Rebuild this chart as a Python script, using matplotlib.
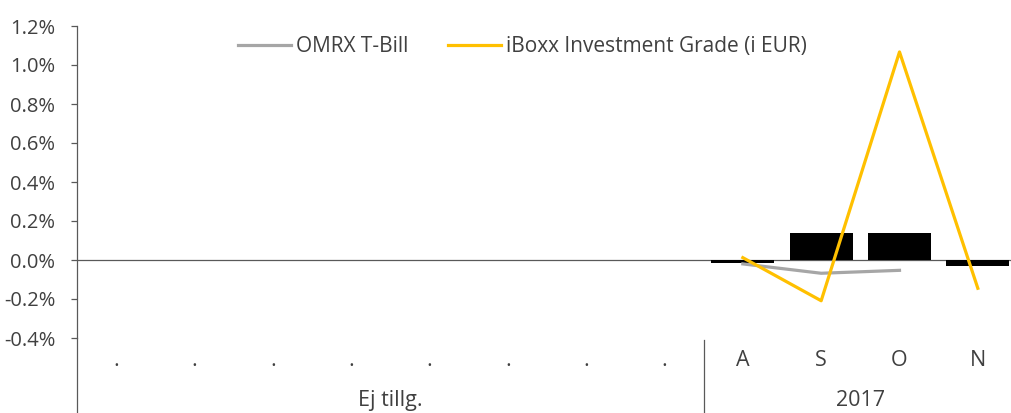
import matplotlib.pyplot as plt
import numpy as np

# Data (percent)
months = ['.', '.', '.', '.', '.', '.', '.', '.', 'A', 'S', 'O', 'N']
groups = ['Ej tillg.', '2017']
group_sizes = [8, 4]
bars = [np.nan] * 8 + [-0.017, 0.14, 0.14, -0.03]
omrx = [np.nan] * 8 + [-0.02, -0.068, -0.053, np.nan]
iboxx = [np.nan] * 8 + [0.012, -0.209, 1.067, -0.145]

plt.rcParams['font.family'] = ['Open Sans', 'DejaVu Sans']
txt = '#404040'
fs = 14.5

fig = plt.figure(figsize=(10.11, 4.13), dpi=100)
ax = fig.add_axes([77 / 1011, 75 / 413, 940 / 1011, 312 / 413])

x = np.arange(len(months))
ax.bar(x, bars, width=0.8, color='black', zorder=2)
ax.plot(x, omrx, color='#A6A6A6', lw=2.3, label='OMRX T-Bill', zorder=3)
ax.plot(x, iboxx, color='#FFC000', lw=2.3, label='iBoxx Investment Grade (i EUR)', zorder=4)
ax.axhline(0, color='#595959', lw=0.9, zorder=1)

ax.set_xlim(-0.5, len(months) - 0.5)
ax.set_ylim(-0.4, 1.2)
ax.set_yticks(np.arange(-0.4, 1.21, 0.2))
ax.set_yticklabels(['%.1f%%' % v for v in np.arange(-0.4, 1.21, 0.2)], color=txt, fontsize=fs)
ax.tick_params(axis='y', length=4.5, color='#595959', width=0.9, pad=11)
ax.set_xticks([])

for s in ['top', 'right', 'bottom']:
    ax.spines[s].set_visible(False)
ax.spines['left'].set_color('#595959')
ax.spines['left'].set_linewidth(0.9)
ax.spines['left'].set_bounds(-0.4, 1.2)

# category labels below the plot
for i, m in enumerate(months):
    ax.text(i, -0.515, m, ha='center', va='center', fontsize=15.5, color=txt)
start = 0
for g, n in zip(groups, group_sizes):
    ax.text(start + (n - 1) / 2, -0.723, g, ha='center', va='center', fontsize=15.5, color=txt)
    start += n

# axis lines in label area
ax.plot([-0.5, -0.5], [-0.4, -0.8], color='#595959', lw=0.9, clip_on=False)
ax.plot([7.5, 7.5], [-0.41, -0.8], color='#595959', lw=0.9, clip_on=False)

ax.legend(loc='center', bbox_to_anchor=(0.474, 0.933), ncol=2, frameon=False,
          fontsize=15, labelcolor=txt, handlelength=2.55, handletextpad=0.25, columnspacing=1.9)

fig.savefig('out.png', dpi=100)
